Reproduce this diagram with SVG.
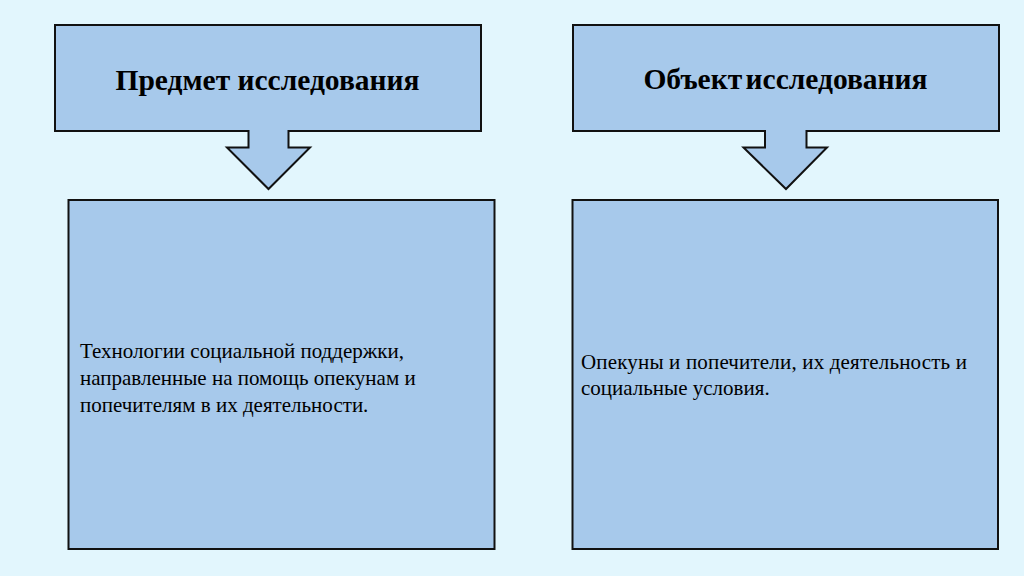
<svg xmlns="http://www.w3.org/2000/svg" width="1024" height="576" viewBox="0 0 1024 576">
<style>
.shape{fill:#a7c9eb;stroke:#111;stroke-width:2;stroke-linejoin:miter}
.title{font-family:"Liberation Serif","Times New Roman",serif;font-weight:bold;font-size:29.5px;fill:#000;text-anchor:middle}
.body{font-family:"Liberation Serif","Times New Roman",serif;font-size:21px;fill:#000}
</style>
<rect width="1024" height="576" fill="#e2f6fd"/>
<g id="node-subject">
<path class="shape" d="M55,25 H481 V131 H288.5 V147.5 H310 L268.5,189 L227,147.5 H248.5 V131 H55 Z"/>
<text class="title" x="267.5" y="90">Предмет исследования</text>
</g>
<g id="node-object">
<path class="shape" d="M573,25 H999 V131 H806.5 V147.5 H827 L786,189 L743.5,147.5 H765 V131 H573 Z"/>
<text class="title" x="785.5" y="89" word-spacing="-4">Объект исследования</text>
</g>
<g id="node-subject-desc">
<rect class="shape" x="68.5" y="200" width="426" height="349"/>
<text class="body" x="80" y="358">Технологии социальной поддержки,</text>
<text class="body" x="80" y="385">направленные на помощь опекунам и</text>
<text class="body" x="80" y="411.5">попечителям в их деятельности.</text>
</g>
<g id="node-object-desc">
<rect class="shape" x="572.5" y="200" width="425.5" height="349"/>
<text class="body" x="581" y="369" textLength="386" lengthAdjust="spacing">Опекуны и попечители, их деятельность и</text>
<text class="body" x="581" y="395">социальные условия.</text>
</g>
<g id="connectors"></g>
</svg>
